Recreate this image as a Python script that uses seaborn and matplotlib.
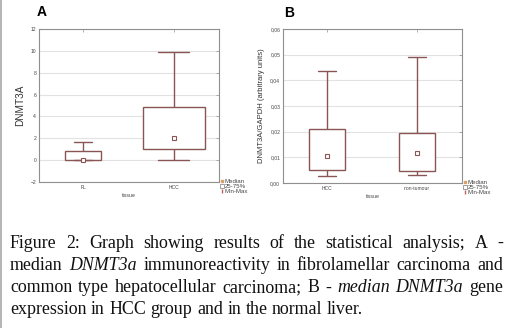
import matplotlib
matplotlib.use("Agg")
import matplotlib.pyplot as plt
import seaborn as sns
import pandas as pd
import numpy as np
from matplotlib.lines import Line2D
from matplotlib.patches import Patch

# ---- data (five-number summaries: min, q1, median, q3, max)
cats_a = ["FL", "HCC"]
fl_vals = [0.0, 0.0, 0.0, 0.8, 1.65]
hcc_a_vals = [0.0, 1.0, 2.0, 4.85, 9.85]
yticks_a = [-2, 0, 2, 4, 6, 8, 10, 12]

cats_b = ["HCC", "non-tumour"]
hcc_b_vals = [0.0027, 0.005, 0.0105, 0.021, 0.0437]
nt_vals = [0.003, 0.0047, 0.0118, 0.0195, 0.049]
yticks_b = [0.00, 0.01, 0.02, 0.03, 0.04, 0.05, 0.06]
yticklabels_b = ["0,00", "0,01", "0,02", "0,03", "0,04", "0,05", "0,06"]

legend_labels = ["Median", "25-75%", "Min-Max"]

BOX = "#8a5555"
GRID = "#e2e2e2"
SPINE = "#8f8f8f"

sns.set_theme(style="white")
plt.rcParams["font.family"] = ["Liberation Sans", "DejaVu Sans"]

fig = plt.figure(figsize=(5.12, 3.28), dpi=100)
W, H = 512, 328

def px_axes(l, t, r, b):
    return fig.add_axes([l / W, 1 - b / H, (r - l) / W, (b - t) / H])

axA = px_axes(39, 29, 219, 182)
axB = px_axes(283, 29, 462, 183)

def draw_panel(ax, cats, groups, widths):
    df = pd.DataFrame({
        "tissue": np.repeat(cats, [len(g) for g in groups]),
        "value": np.concatenate(groups),
    })
    for c, w in zip(cats, widths):
        sub = df[df["tissue"] == c]
        sns.boxplot(data=sub, x="tissue", y="value", order=cats, ax=ax,
                    whis=(0, 100), width=w, color="white", linecolor=BOX,
                    linewidth=1.0, showfliers=False,
                    medianprops={"visible": False})
    sns.pointplot(data=df, x="tissue", y="value", order=cats, ax=ax,
                  estimator="median", errorbar=None, linestyle="none",
                  markers="s", color=BOX, markersize=2.6,
                  markerfacecolor="white", markeredgecolor=BOX,
                  markeredgewidth=0.8)
    ax.set_xlim(-0.49, 1.5)
    for s in ax.spines.values():
        s.set_color(SPINE)
        s.set_linewidth(0.8)
    ax.tick_params(axis="both", which="both", labelsize=3.6, length=2,
                   width=0.5, color=SPINE, direction="in", pad=2,
                   labelcolor="#444444", top=True, right=True)
    ax.yaxis.grid(True, color=GRID, linewidth=0.8)
    ax.set_axisbelow(True)

    handles = [Line2D([], [], marker="s", linestyle="none", markersize=1.8,
                      markerfacecolor="#d9a066", markeredgecolor="#d9a066"),
               Patch(facecolor="white", edgecolor="#777777", linewidth=0.5),
               Line2D([], [], marker="$\\mathrm{I}$", linestyle="none",
                      markersize=3, color="#c06060")]
    ax.legend(handles, legend_labels, loc="upper left",
              bbox_to_anchor=(1.005, 0.02), fontsize=4.4, frameon=False,
              handlelength=0.6, handleheight=0.6, handletextpad=0.15,
              labelspacing=0.0, borderpad=0, borderaxespad=0,
              labelcolor="#444444")

draw_panel(axA, cats_a, [fl_vals, hcc_a_vals], [0.40, 0.68])
axA.set_ylim(-2, 12)
axA.set_yticks(yticks_a)
axA.set_ylabel("DNMT3A", fontsize=7.2, color="#333333", labelpad=4)
axA.set_xlabel("tissue", fontsize=3.8, color="#444444", labelpad=2)

draw_panel(axB, cats_b, [hcc_b_vals, nt_vals], [0.40, 0.40])
axB.set_ylim(0, 0.06)
axB.set_yticks(yticks_b)
axB.set_yticklabels(yticklabels_b)
axB.set_ylabel("DNMT3A/GAPDH (arbitrary units)", fontsize=5.5,
               color="#333333", labelpad=4)
axB.set_xlabel("tissue", fontsize=3.8, color="#444444", labelpad=2)

fig.text(37 / W, 1 - 12 / H, "A", fontsize=10, fontweight="bold",
         va="center", ha="left", color="black")
fig.text(284 / W, 1 - 13 / H, "B", fontsize=10, fontweight="bold",
         va="center", ha="left", color="black")

# left page border line
fig.add_artist(Line2D([1.2 / W, 1.2 / W], [0, 1], transform=fig.transFigure,
                      color="#a8a8a8", linewidth=1.2))

# ---- caption with justified lines
caption = [
    ([("Figure", 0), ("2:", 0), ("Graph", 0), ("showing", 0), ("results", 0),
      ("of", 0), ("the", 0), ("statistical", 0), ("analysis;", 0), ("A", 0),
      ("-", 0)], True),
    ([("median", 0), ("DNMT3a", 1), ("immunoreactivity", 0), ("in", 0),
      ("fibrolamellar", 0), ("carcinoma", 0), ("and", 0)], True),
    ([("common", 0), ("type", 0), ("hepatocellular", 0), ("carcinoma;", 0),
      ("B", 0), ("-", 0), ("median", 1), ("DNMT3a", 1), ("gene", 0)], True),
    ([("expression", 0), ("in", 0), ("HCC", 0), ("group", 0), ("and", 0),
      ("in", 0), ("the", 0), ("normal", 0), ("liver.", 0)], False),
]
line_y = [243, 266, 288, 310]
x0, x1 = 10, 503
FS = 12.9
renderer = fig.canvas.get_renderer()
for (words, justify), yy in zip(caption, line_y):
    texts = []
    for w, it in words:
        t = fig.text(0, 1 - yy / H, w, fontsize=FS, va="center", ha="left",
                     family=["Liberation Serif", "DejaVu Serif"],
                     fontstyle="italic" if it else "normal", color="#111111")
        texts.append(t)
    widths = [t.get_window_extent(renderer).width for t in texts]
    if justify:
        gap = (x1 - x0 - sum(widths)) / (len(texts) - 1)
    else:
        sp = fig.text(0, 0, "a b", fontsize=FS,
                      family=["Liberation Serif"])
        ab = fig.text(0, 0, "ab", fontsize=FS, family=["Liberation Serif"])
        gap = sp.get_window_extent(renderer).width - ab.get_window_extent(renderer).width
        sp.remove(); ab.remove()
    x = x0
    for t, w in zip(texts, widths):
        t.set_x(x / W)
        x += w + gap

fig.savefig("out.png", dpi=100, facecolor="white")
